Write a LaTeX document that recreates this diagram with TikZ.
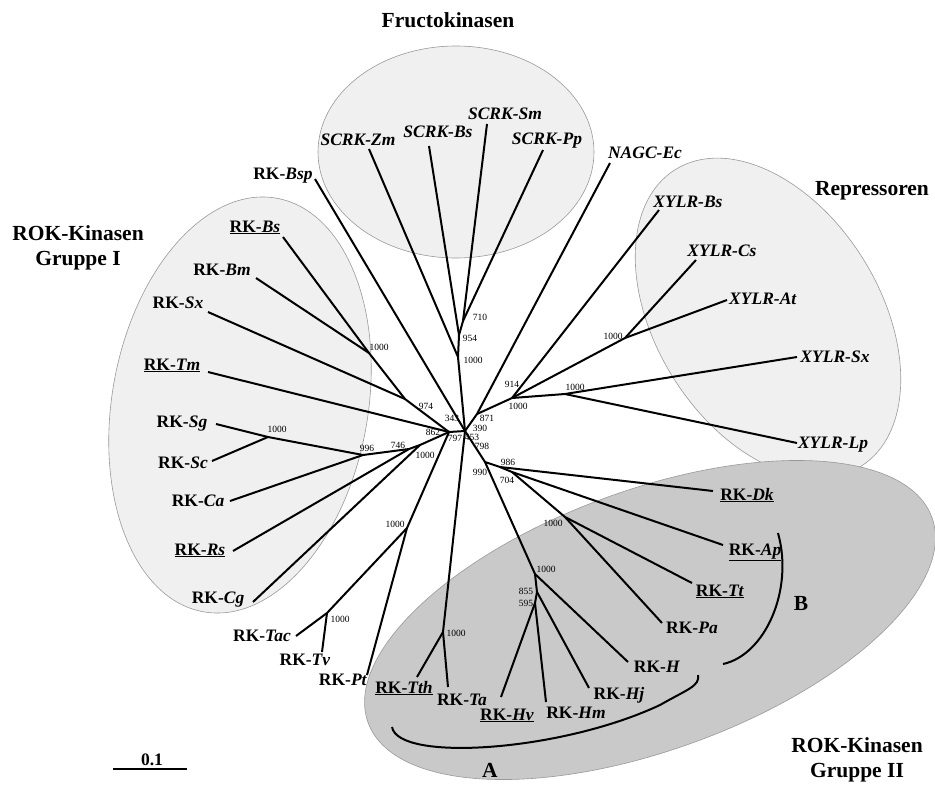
\documentclass[tikz,border=0pt]{standalone}
\usepackage{fontspec}
\setmainfont{Liberation Serif}
\begin{document}
\begin{tikzpicture}[x=1pt,y=-1pt,
  br/.style={line width=2pt},
  leaf/.style={font=\fontsize{17.5}{20}\selectfont\bfseries, inner sep=0pt, anchor=base},
  boot/.style={font=\fontsize{9.5}{11}\selectfont, inner sep=0pt},
  ttl/.style={font=\fontsize{21.5}{27}\selectfont\bfseries, inner sep=0pt, anchor=base},
  lightcl/.style={fill=black!6, draw=black!40, line width=0.6pt},
  darkcl/.style={fill=black!21, draw=black!40, line width=0.6pt},
  brk/.style={line width=2pt},
]
\useasboundingbox (0,0) rectangle (935,785);
% clusters
\draw[lightcl] (456,152) ellipse [x radius=138pt, y radius=106pt];
\draw[lightcl, rotate around={-10:(240,405)}] (240,405) ellipse [x radius=128pt, y radius=210pt];
\draw[lightcl, rotate around={-58:(768,318)}] (768,318) ellipse [x radius=175pt, y radius=112pt];
\draw[darkcl, rotate around={20:(650,620)}] (650,620) ellipse [x radius=300pt, y radius=130pt];

% titles
\node[ttl] (tF) at (448,27) {Fructokinasen};
\node[ttl] (tR) at (872,195) {Repressoren};
\node[ttl] (tG1a) at (78,240) {ROK-Kinasen};
\node[ttl] (tG1b) at (78,265) {Gruppe I};
\node[ttl] (tG2a) at (857,752) {ROK-Kinasen};
\node[ttl] (tG2b) at (857,777) {Gruppe II};
\node[ttl] (tA) at (490,777) {A};
\node[ttl] (tB) at (801,610) {B};

% internal nodes
\coordinate (N0) at (465,431);
\coordinate (N862) at (449,432);
\coordinate (N974) at (405,399);
\coordinate (NBsBm) at (369,353);
\coordinate (NCg) at (420,445);
\coordinate (N746) at (409,449);
\coordinate (N996) at (363,455);
\coordinate (NSgSc) at (268,437);
\coordinate (NPt) at (407,528);
\coordinate (NTacTv) at (327,613);
\coordinate (NF1) at (458,357);
\coordinate (NF2) at (459,335);
\coordinate (NF3) at (463,321);
\coordinate (N871) at (477,414);
\coordinate (NX) at (512,398);
\coordinate (NXCA) at (625,338);
\coordinate (NXSL) at (565,394);
\coordinate (N990) at (485,462);
\coordinate (N986) at (500,467);
\coordinate (N704) at (512,472);
\coordinate (NTP) at (565,517);
\coordinate (NH) at (535,574);
\coordinate (N855) at (537,592);
\coordinate (N595) at (535,603);
\coordinate (NTT) at (443,632);

% leaf line ends
\coordinate (eBsp) at (315,179);
\coordinate (eZm) at (369,149);
\coordinate (eSBs) at (429,146);
\coordinate (eSm) at (487,124);
\coordinate (ePp) at (543,150);
\coordinate (eNAGC) at (610,163);
\coordinate (eXBs) at (659,210);
\coordinate (eXCs) at (696,260);
\coordinate (eXAt) at (727,300);
\coordinate (eXSx) at (797,357);
\coordinate (eXLp) at (797,443);
\coordinate (eDk) at (713,491);
\coordinate (eAp) at (723,545);
\coordinate (eTt) at (692,583);
\coordinate (ePa) at (662,623);
\coordinate (eH) at (628,662);
\coordinate (eHj) at (589,688);
\coordinate (eHm) at (546,702);
\coordinate (eHv) at (501,697);
\coordinate (eTa) at (448,687);
\coordinate (eTth) at (417,677);
\coordinate (ePt) at (367,675);
\coordinate (eTv) at (322,652);
\coordinate (eTac) at (296,636);
\coordinate (eCg) at (253,602);
\coordinate (eRs) at (233,551);
\coordinate (eCa) at (230,501);
\coordinate (eSc) at (212,461);
\coordinate (eSg) at (216,424);
\coordinate (eTm) at (208,372);
\coordinate (eSx) at (208,312);
\coordinate (eBm) at (256,278);
\coordinate (eBs) at (283,237);

% branches
\draw[br] (N0) -- (N862);
\draw[br] (N0) -- (eBsp);
\draw[br] (N0) -- (NF1) -- (NF2) -- (NF3);
\draw[br] (NF1) -- (eZm);
\draw[br] (NF2) -- (eSBs);
\draw[br] (NF3) -- (eSm);
\draw[br] (NF3) -- (ePp);
\draw[br] (N0) -- (N871) -- (eNAGC);
\draw[br] (N871) -- (NX) -- (eXBs);
\draw[br] (NX) -- (NXCA) -- (eXCs);
\draw[br] (NXCA) -- (eXAt);
\draw[br] (NX) -- (NXSL) -- (eXSx);
\draw[br] (NXSL) -- (eXLp);
\draw[br] (N862) -- (eTm);
\draw[br] (N862) -- (N974) -- (NBsBm) -- (eBs);
\draw[br] (NBsBm) -- (eBm);
\draw[br] (N974) -- (eSx);
\draw[br] (N862) -- (NCg) -- (N746) -- (N996) -- (NSgSc) -- (eSg);
\draw[br] (NCg) -- (eCg);
\draw[br] (N746) -- (eRs);
\draw[br] (N996) -- (eCa);
\draw[br] (NSgSc) -- (eSc);
\draw[br] (N862) -- (NPt) -- (NTacTv) -- (eTac);
\draw[br] (NTacTv) -- (eTv);
\draw[br] (NPt) -- (ePt);
\draw[br] (N0) -- (NTT) -- (eTa);
\draw[br] (NTT) -- (eTth);
\draw[br] (N0) -- (N990) -- (N986) -- (eDk);
\draw[br] (N986) -- (N704) -- (eAp);
\draw[br] (N704) -- (NTP) -- (eTt);
\draw[br] (NTP) -- (ePa);
\draw[br] (N990) -- (NH) -- (eH);
\draw[br] (NH) -- (N855) -- (eHj);
\draw[br] (N855) -- (N595) -- (eHv);
\draw[br] (N595) -- (eHm);

% leaf labels
\node[leaf] (lBsp) at (283,179) {RK-\textit{Bsp}};
\node[leaf] (lZm) at (358,145) {\textit{SCRK-Zm}};
\node[leaf] (lSBs) at (438,137) {\textit{SCRK-Bs}};
\node[leaf] (lSm) at (505,119) {\textit{SCRK-Sm}};
\node[leaf] (lPp) at (547,144) {\textit{SCRK-Pp}};
\node[leaf] (lNAGC) at (645,158) {\textit{NAGC-Ec}};
\node[leaf] (lXBs) at (688,207) {\textit{XYLR-Bs}};
\node[leaf] (lXCs) at (722,256) {\textit{XYLR-Cs}};
\node[leaf] (lXAt) at (763,304) {\textit{XYLR-At}};
\node[leaf] (lXSx) at (835,362) {\textit{XYLR-Sx}};
\node[leaf] (lXLp) at (833,448) {\textit{XYLR-Lp}};
\node[leaf] (lDk) at (747,500) {\underline{RK-\textit{Dk}}};
\node[leaf] (lAp) at (755,555) {\underline{RK-\textit{Ap}}};
\node[leaf] (lTt) at (720,596) {\underline{RK-\textit{Tt}}};
\node[leaf] (lPa) at (692,633) {RK-\textit{Pa}};
\node[leaf] (lH) at (657,672) {RK-\textit{H}};
\node[leaf] (lHj) at (619,699) {RK-\textit{Hj}};
\node[leaf] (lHm) at (576,718) {RK-\textit{Hm}};
\node[leaf] (lHv) at (507,720) {\underline{RK-\textit{Hv}}};
\node[leaf] (lTa) at (462,705) {RK-\textit{Ta}};
\node[leaf] (lTth) at (404,693) {\underline{RK-\textit{Tth}}};
\node[leaf] (lPt) at (343,685) {RK-\textit{Pt}};
\node[leaf] (lTv) at (305,665) {RK-\textit{Tv}};
\node[leaf] (lTac) at (262,641) {RK-\textit{Tac}};
\node[leaf] (lCg) at (218,603) {RK-\textit{Cg}};
\node[leaf] (lRs) at (200,555) {\underline{RK-\textit{Rs}}};
\node[leaf] (lCa) at (198,506) {RK-\textit{Ca}};
\node[leaf] (lSc) at (183,468) {RK-\textit{Sc}};
\node[leaf] (lSg) at (182,427) {RK-\textit{Sg}};
\node[leaf] (lTm) at (172,370) {\underline{RK-\textit{Tm}}};
\node[leaf] (lSx) at (178,308) {RK-\textit{Sx}};
\node[leaf] (lBm) at (222,275) {RK-\textit{Bm}};
\node[leaf] (lBs) at (255,232) {\underline{RK-\textit{Bs}}};

% bootstrap values
\node[boot] (b710) at (480,317) {710};
\node[boot] (b954) at (470,338) {954};
\node[boot] (bF1000) at (473,360) {1000};
\node[boot] (bBsBm) at (379,347) {1000};
\node[boot] (b974) at (426,406) {974};
\node[boot] (b343) at (452,418) {343};
\node[boot] (b871) at (487,418) {871};
\node[boot] (b390) at (480,428) {390};
\node[boot] (b862) at (433,432) {862};
\node[boot] (b797) at (455,438) {797};
\node[boot] (b453) at (472,437) {453};
\node[boot] (b798) at (482,446) {798};
\node[boot] (b914) at (512,384) {914};
\node[boot] (bX1000) at (518,406) {1000};
\node[boot] (bXCA) at (613,336) {1000};
\node[boot] (bXSL) at (575,387) {1000};
\node[boot] (bSgSc) at (277,429) {1000};
\node[boot] (b996) at (367,448) {996};
\node[boot] (b746) at (398,445) {746};
\node[boot] (bCg) at (425,455) {1000};
\node[boot] (bPt) at (395,524) {1000};
\node[boot] (bTacTv) at (340,619) {1000};
\node[boot] (b986) at (508,462) {986};
\node[boot] (b990) at (480,472) {990};
\node[boot] (b704) at (507,480) {704};
\node[boot] (bTP) at (553,523) {1000};
\node[boot] (bH) at (546,569) {1000};
\node[boot] (b855) at (526,591) {855};
\node[boot] (b595) at (526,603) {595};
\node[boot] (bTT) at (456,633) {1000};

% brackets
\draw[brk] (392,727) .. controls (398,762) and (560,752) .. (660,705) .. controls (688,689) and (700,686) .. (698,675);
\draw[brk] (723,664) .. controls (765,655) and (794,590) .. (778,533);

% scale bar
\coordinate (sL) at (113,769);
\coordinate (sR) at (187,769);
\draw[line width=1.2pt] (sL) -- (sR);
\node[leaf] (lScale) at (152,765) {0.1};
\end{tikzpicture}
\end{document}
